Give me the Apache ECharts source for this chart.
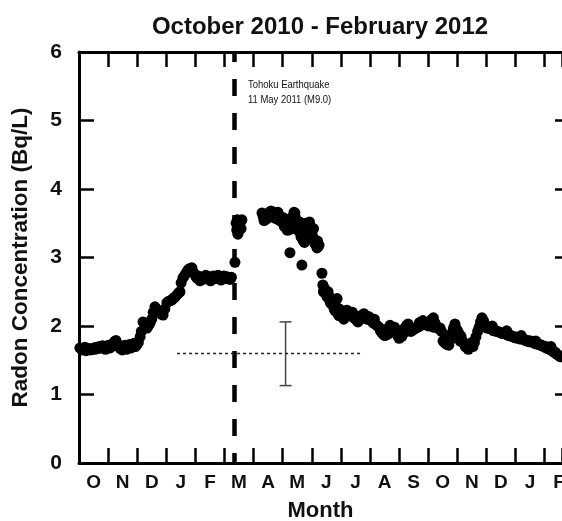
<!DOCTYPE html>
<html><head><meta charset="utf-8">
<script src="https://cdn.jsdelivr.net/npm/echarts@6/dist/echarts.min.js"></script>
<style>html,body{margin:0;padding:0;background:#fff}#c{width:562px;height:521px}</style>
</head><body><div id="c"></div>
<script>
// x values are months since 1 October 2010; y values are radon concentration (Bq/L)
const monthLabels = ['O','N','D','J','F','M','A','M','J','J','A','S','O','N','D','J','F'];
const xVisibleMax = 16.6;   // the figure is cropped part-way through February 2012
const yTickValues = [0, 1, 2, 3, 4, 5, 6];
const quakeMonth = 5.32;
const baselineLevel = 1.6;
const baselineSpan = [3.37, 9.66];
const errorBars = [[7.1, 1.13, 2.06]];

const preQuake = [
[0.03,1.68],[0.10,1.65],[0.14,1.66],[0.20,1.69],[0.24,1.64],[0.30,1.66],[0.34,1.67],[0.40,1.65],[0.45,1.66],[0.50,1.68],
[0.55,1.66],[0.60,1.69],[0.65,1.67],[0.70,1.70],[0.76,1.68],[0.81,1.71],[0.86,1.69],[0.91,1.66],[0.96,1.70],[1.01,1.72],
[1.07,1.68],[1.12,1.73],[1.17,1.71],[1.22,1.77],[1.27,1.79],[1.32,1.74],[1.37,1.70],[1.42,1.67],[1.48,1.65],[1.53,1.68],
[1.58,1.72],[1.63,1.66],[1.68,1.70],[1.74,1.73],[1.79,1.68],[1.84,1.71],[1.89,1.75],[1.94,1.70],[1.99,1.73],[2.04,1.76],
[2.10,1.84],[2.14,1.92],[2.20,2.06],[2.27,2.00],[2.34,1.97],[2.39,2.01],[2.44,2.04],[2.50,2.10],[2.55,2.20],[2.61,2.28],
[2.66,2.25],[2.72,2.21],[2.78,2.19],[2.84,2.17],[2.89,2.16],[2.95,2.25],[3.02,2.34],[3.08,2.36],[3.14,2.37],[3.20,2.38],
[3.25,2.41],[3.30,2.42],[3.36,2.45],[3.42,2.48],[3.47,2.50],[3.51,2.63],[3.57,2.70],[3.63,2.74],[3.69,2.78],[3.75,2.82],
[3.81,2.84],[3.88,2.85],[3.94,2.78],[3.99,2.74],[4.05,2.70],[4.10,2.73],[4.16,2.66],[4.21,2.71],[4.26,2.68],[4.31,2.72],
[4.36,2.74],[4.41,2.69],[4.47,2.72],[4.52,2.66],[4.57,2.70],[4.62,2.73],[4.67,2.69],[4.72,2.71],[4.78,2.74],[4.83,2.70],
[4.88,2.67],[4.93,2.71],[4.98,2.73],[5.04,2.69],[5.09,2.72],[5.14,2.70],[5.19,2.68],[5.24,2.71]
];
const postQuake = [
[5.36,2.93],[5.40,3.50],[5.42,3.40],[5.44,3.55],[5.46,3.34],[5.48,3.45],[5.52,3.48],[5.55,3.52],[5.57,3.42],[5.60,3.55]
];
const springHigh = [
[6.29,3.65],[6.33,3.60],[6.36,3.54],[6.39,3.62],[6.44,3.56],[6.49,3.58],[6.54,3.66],[6.58,3.60],[6.60,3.68],[6.65,3.63],
[6.70,3.66],[6.75,3.57],[6.80,3.63],[6.84,3.66],[6.86,3.55],[6.91,3.60],[6.96,3.52],[7.01,3.52],[7.03,3.58],[7.06,3.45],
[7.11,3.47],[7.15,3.40],[7.18,3.55],[7.20,3.40],[7.22,3.48],[7.25,3.07],[7.29,3.50],[7.32,3.42],[7.35,3.60],[7.39,3.66],
[7.42,3.65],[7.44,3.58],[7.46,3.55],[7.49,3.45],[7.53,3.50],[7.56,3.38],[7.58,3.52],[7.60,3.45],[7.63,3.30],[7.66,2.89],
[7.70,3.25],[7.73,3.35],[7.75,3.22],[7.77,3.50],[7.80,3.32],[7.84,3.42],[7.87,3.48],[7.90,3.40],[7.92,3.52],[7.94,3.28],
[7.97,3.45],[8.01,3.38],[8.04,3.30],[8.06,3.42],[8.08,3.25],[8.11,3.20],[8.15,3.18],[8.18,3.14],[8.20,3.24],[8.22,3.16],
[8.25,3.18]
];
const decline = [
[8.35,2.77],[8.38,2.60],[8.40,2.50],[8.42,2.56],[8.45,2.53],[8.49,2.47],[8.52,2.43],[8.56,2.50],[8.59,2.40],[8.62,2.42],
[8.63,2.35],[8.66,2.33],[8.70,2.38],[8.73,2.30],[8.77,2.25],[8.80,2.22],[8.84,2.28],[8.87,2.40],[8.90,2.18],[8.93,2.15],
[8.95,2.25],[8.97,2.20],[9.00,2.18],[9.05,2.14],[9.10,2.10],[9.11,2.20],[9.16,2.22],[9.21,2.23],[9.26,2.17],[9.31,2.15],
[9.37,2.18],[9.40,2.20],[9.42,2.13],[9.47,2.11],[9.52,2.10],[9.56,2.07],[9.59,2.06],[9.62,2.14],[9.64,2.09],[9.69,2.12],
[9.74,2.16],[9.79,2.18],[9.85,2.13],[9.90,2.10],[9.95,2.14],[10.00,2.12],[10.05,2.08],[10.10,2.05],[10.15,2.10],[10.16,2.03],
[10.21,2.02],[10.26,2.00],[10.31,1.98],[10.36,1.93],[10.41,1.90],[10.45,1.95],[10.47,1.87],[10.52,1.86],[10.57,1.90],[10.62,1.88],
[10.66,1.95],[10.69,2.01],[10.74,1.98],[10.79,1.95],[10.84,1.92],[10.85,1.98],[10.89,1.90],[10.95,1.86],[11.00,1.82],[11.05,1.84],
[11.10,1.85],[11.15,1.92],[11.20,1.97],[11.25,1.92],[11.26,2.01],[11.31,2.03],[11.36,1.97],[11.41,1.92],[11.46,1.94],[11.51,1.95],
[11.57,1.97],[11.62,1.98],[11.67,1.99],[11.70,2.05],[11.72,2.00],[11.77,2.05],[11.82,2.08],[11.87,2.05],[11.92,2.03],[11.97,2.01],
[12.03,2.00],[12.08,2.06],[12.13,2.10],[12.18,2.12],[12.20,1.98],[12.23,2.05],[12.27,2.00],[12.30,1.99],[12.36,1.96],[12.41,1.97],
[12.46,1.92],[12.51,1.78],[12.56,1.76],[12.60,1.82],[12.61,1.74],[12.66,1.73],[12.71,1.72],[12.77,1.80],[12.82,1.90],[12.87,1.97],
[12.92,2.03],[12.97,1.96],[13.02,1.92],[13.07,1.88],[13.10,1.78],[13.13,1.85],[13.18,1.78],[13.23,1.74],[13.28,1.70],[13.33,1.68],
[13.38,1.66],[13.44,1.70],[13.49,1.72],[13.50,1.76],[13.54,1.70],[13.59,1.76],[13.64,1.84],[13.70,1.92],[13.75,1.98],[13.80,2.06],
[13.85,2.12],[13.90,2.08],[13.92,2.05],[13.97,1.99],[14.02,1.97],[14.09,1.97],[14.14,1.96],[14.19,1.95],[14.20,2.00],[14.25,1.93],
[14.30,1.94],[14.35,1.92],[14.40,1.92],[14.45,1.91],[14.50,1.90],[14.55,1.89],[14.60,1.90],[14.66,1.88],[14.70,1.93],[14.71,1.88],
[14.76,1.86],[14.81,1.87],[14.86,1.85],[14.91,1.85],[14.97,1.83],[15.02,1.84],[15.07,1.82],[15.12,1.83],[15.17,1.81],[15.20,1.86],
[15.22,1.82],[15.28,1.80],[15.33,1.80],[15.38,1.78],[15.43,1.79],[15.48,1.77],[15.53,1.78],[15.59,1.76],[15.64,1.76],[15.69,1.74],
[15.70,1.78],[15.74,1.75],[15.79,1.73],[15.84,1.73],[15.90,1.71],[15.95,1.71],[16.00,1.69],[16.05,1.70],[16.10,1.67],[16.15,1.68],
[16.20,1.65],[16.22,1.70],[16.25,1.65],[16.31,1.62],[16.36,1.62],[16.41,1.59],[16.46,1.58],[16.51,1.56],[16.56,1.55]
];

const FONT = "'Liberation Sans', Arial, Helvetica, sans-serif";
const chart = echarts.init(document.getElementById('c'), null, {renderer: 'canvas'});

const frameAxis = (pos, lineShown, tickLen) => ({
  position: pos,
  axisLine: {show: lineShown, onZero: false, lineStyle: {color: '#000', width: 3}},
  axisTick: {show: true, inside: true, length: tickLen, lineStyle: {color: '#000', width: 2.5}},
  splitLine: {show: false}
});

chart.setOption({
  animation: false,
  backgroundColor: '#fff',
  grid: {left: 79, top: 52, right: 0, bottom: 58, containLabel: false, outerBoundsMode: 'none'},
  graphic: [
    {type: 'text', x: 320, y: 15, style: {text: 'October 2010 - February 2012', font: 'bold 24px ' + FONT, fill: '#111', textAlign: 'center'}},
    {type: 'text', x: 248, y: 79, scaleX: 0.86, style: {text: 'Tohoku Earthquake', font: '11px ' + FONT, fill: '#111'}},
    {type: 'text', x: 248, y: 94.5, scaleX: 0.86, style: {text: '11 May 2011 (M9.0)', font: '11px ' + FONT, fill: '#111'}}
  ],
  xAxis: [
    Object.assign({type: 'value', min: 0, max: xVisibleMax, interval: 1, axisLabel: {show: false}}, frameAxis('bottom', true, 15)),
    Object.assign({type: 'value', min: 0, max: xVisibleMax, interval: 1, axisLabel: {show: false}}, frameAxis('top', true, 15)),
    {type: 'value', min: 0, max: xVisibleMax, interval: 0.5, position: 'bottom',
     axisLine: {show: false}, axisTick: {show: false}, splitLine: {show: false},
     axisLabel: {margin: 10, color: '#111', fontSize: 19, fontWeight: 'bold', fontFamily: FONT,
       showMinLabel: true, showMaxLabel: true,
       formatter: function (v) {
         const i = Math.floor(v);
         return Math.abs(v - i - 0.5) < 1e-6 && i < monthLabels.length ? monthLabels[i] : '';
       }},
     name: 'Month', nameLocation: 'middle', nameGap: 37,
     nameTextStyle: {color: '#111', fontSize: 22, fontWeight: 'bold', fontFamily: FONT}}
  ],
  yAxis: [
    Object.assign({type: 'value', min: yTickValues[0], max: yTickValues[yTickValues.length - 1], interval: 1,
      axisLabel: {margin: 17, color: '#111', fontSize: 21, fontWeight: 'bold', fontFamily: FONT},
      name: 'Radon Concentration (Bq/L)', nameLocation: 'middle', nameGap: 47, nameRotate: 90,
      nameTextStyle: {color: '#111', fontSize: 22.5, fontWeight: 'bold', fontFamily: FONT}}, frameAxis('left', true, 15)),
    Object.assign({type: 'value', min: yTickValues[0], max: yTickValues[yTickValues.length - 1], interval: 1,
      axisLabel: {show: false}}, frameAxis('right', false, 7))
  ],
  series: [
    {
      type: 'scatter', xAxisIndex: 0, yAxisIndex: 0,
      data: [].concat(preQuake, postQuake, springHigh, decline),
      symbol: 'circle', symbolSize: 11,
      itemStyle: {color: '#000', opacity: 1},
      markLine: {
        silent: true, symbol: 'none', animation: false,
        label: {show: false},
        data: [
          [{coord: [quakeMonth, yTickValues[yTickValues.length - 1]], lineStyle: {type: [17, 17], dashOffset: 7, width: 4.5, color: '#000'}},
           {coord: [quakeMonth, yTickValues[0]]}],
          [{coord: [baselineSpan[0], baselineLevel], lineStyle: {type: [3, 3], width: 1.3, color: '#222'}},
           {coord: [baselineSpan[1], baselineLevel]}]
        ]
      },
      z: 3
    },
    {
      type: 'custom', xAxisIndex: 0, yAxisIndex: 0,
      data: errorBars,
      renderItem: function (params, api) {
        const lo = api.coord([api.value(0), api.value(1)]);
        const hi = api.coord([api.value(0), api.value(2)]);
        const hw = 6;
        const st = {stroke: '#444', lineWidth: 1.5};
        return {type: 'group', children: [
          {type: 'line', shape: {x1: lo[0], y1: lo[1], x2: hi[0], y2: hi[1]}, style: st},
          {type: 'line', shape: {x1: lo[0] - hw, y1: lo[1], x2: lo[0] + hw, y2: lo[1]}, style: st},
          {type: 'line', shape: {x1: hi[0] - hw, y1: hi[1], x2: hi[0] + hw, y2: hi[1]}, style: st}
        ]};
      },
      z: 2
    }
  ]
});
</script>
</body></html>
